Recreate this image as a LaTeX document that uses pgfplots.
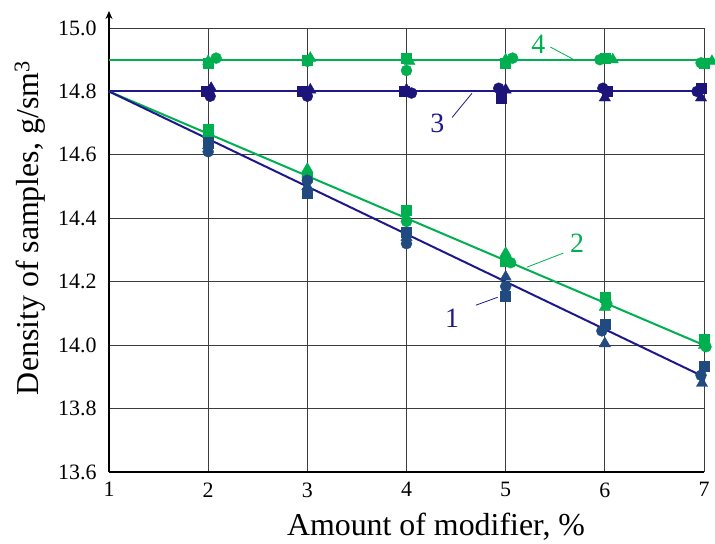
\documentclass[border=0pt]{standalone}
\usepackage{fontspec}
\setmainfont{Liberation Serif}
\usepackage{pgfplots}
\pgfplotsset{compat=1.18}
\usetikzlibrary{arrows.meta}

\definecolor{lgreen}{RGB}{0,176,80}
\definecolor{lnavy}{RGB}{30,24,140}
\definecolor{mindigo}{RGB}{28,20,120}
\definecolor{msteel}{RGB}{32,74,128}
\definecolor{gridc}{RGB}{60,60,60}

\pgfplotsset{
  sq/.style={only marks, mark=square*, mark size=5bp, mark options={solid}},
  ci/.style={only marks, mark=*, mark size=5.5bp, mark options={solid}},
  tr/.style={only marks, mark=triangle*, mark size=6.5bp, mark options={solid}},
}
\newcommand{\tl}[1]{\mbox{\rmfamily #1}}

\begin{document}
\begin{tikzpicture}
\begin{axis}[name=ax,
  scale only axis, width=595bp, height=444bp,
  xmin=1, xmax=7, ymin=13.6, ymax=15.0,
  xtick={1,2,3,4,5,6,7},
  xticklabels={\tl{1},\tl{2},\tl{3},\tl{4},\tl{5},\tl{6},\tl{7}},
  ytick={13.6,13.8,14.0,14.2,14.4,14.6,14.8,15.0},
  yticklabels={\tl{13.6},\tl{13.8},\tl{14.0},\tl{14.2},\tl{14.4},\tl{14.6},\tl{14.8},\tl{15.0}},
  axis x line*=bottom, axis y line*=left,
  axis line style={line width=1.6bp, black},
  grid=major, major grid style={gridc, line width=0.9bp},
  major tick length=0pt,
  tick label style={font=\rmfamily\fontsize{22}{24}\selectfont},
  y tick label style={xshift=-9bp},
  x tick label style={yshift=-7bp},
  xlabel={Amount of modifier, \%},
  ylabel={Density of samples, g/sm\textsuperscript{3}},
  label style={font=\fontsize{32}{35}\selectfont},
  xlabel style={at={(axis description cs:0.5496,-0.124)}, anchor=center},
  ylabel style={at={(axis description cs:-0.1328,0.5495)}, anchor=center},
  clip=false,
]
% fitted lines
\addplot[lgreen, line width=2bp] coordinates {(1,14.9) (7,14.9)};
\addplot[lnavy, line width=2bp] coordinates {(1,14.8) (7,14.8)};
\addplot[lgreen, line width=2bp] coordinates {(1,14.8) (7,14.0)};
\addplot[lnavy, line width=2bp] coordinates {(1,14.8) (7,13.9)};

% series 4
\addplot[sq, lgreen] coordinates {(2,14.89) (3,14.90) (4,14.905) (5,14.89) (6,14.905) (7,14.89)};
\addplot[ci, lgreen] coordinates {(2.08,14.905) (3,14.895) (4,14.866) (5.07,14.905) (5.95,14.90) (6.97,14.89)};
\addplot[tr, lgreen] coordinates {(2,14.895) (3.03,14.905) (4.03,14.895) (5,14.90) (6.08,14.90) (7.08,14.895)};

% series 3
\addplot[sq, mindigo] coordinates {(1.98,14.80) (2.95,14.80) (3.98,14.80) (4.95,14.78) (6.02,14.80) (6.97,14.81)};
\addplot[ci, mindigo] coordinates {(2.02,14.785) (3.0,14.785) (4.05,14.795) (4.93,14.81) (5.98,14.81) (6.93,14.80)};
\addplot[tr, mindigo] coordinates {(2.03,14.81) (3.03,14.805) (4.0,14.805) (5.0,14.805) (6.0,14.78) (6.97,14.78)};

% series 2
\addplot[sq, lgreen] coordinates {(2,14.68) (3,14.53) (4,14.425) (5,14.265) (6,14.15) (7,14.02)};
\addplot[ci, lgreen] coordinates {(2,14.66) (3,14.53) (4,14.39) (5.05,14.26) (6.02,14.13) (7.02,13.995)};
\addplot[tr, lgreen] coordinates {(2,14.665) (3,14.555) (4,14.40) (5,14.29) (6,14.12) (7,14.00)};

% series 1
\addplot[sq, msteel] coordinates {(2,14.64) (3,14.48) (4,14.355) (5,14.155) (6,14.065) (7,13.935)};
\addplot[ci, msteel] coordinates {(2,14.61) (3,14.52) (4,14.32) (5,14.185) (5.97,14.045) (6.97,13.905)};
\addplot[tr, msteel] coordinates {(2,14.63) (3,14.50) (4,14.34) (5,14.215) (6,14.005) (6.98,13.88)};

% curve numbers with leaders
\node[lgreen, font=\fontsize{28}{30}\selectfont] at (axis cs:5.33,14.95) {4};
\draw[lgreen, line width=0.8bp] (axis cs:5.45,14.94) -- (axis cs:5.69,14.90);
\node[lnavy, font=\fontsize{28}{30}\selectfont] at (axis cs:4.31,14.699) {3};
\draw[lnavy, line width=0.8bp] (axis cs:4.46,14.718) -- (axis cs:4.66,14.794);
\node[lgreen, font=\fontsize{28}{30}\selectfont] at (axis cs:5.72,14.32) {2};
\draw[lgreen, line width=0.8bp] (axis cs:5.58,14.29) -- (axis cs:5.215,14.246);
\node[lnavy, font=\fontsize{28}{30}\selectfont] at (axis cs:4.46,14.085) {1};
\draw[lnavy, line width=0.8bp] (axis cs:4.70,14.126) -- (axis cs:4.92,14.151);
\end{axis}
% arrow on the density axis
\draw[line width=1.6bp, -{Stealth[length=8bp,width=7bp]}] (ax.north west) -- ++(0,17bp);
\pgfresetboundingbox
\path (ax.south west) ++(-109bp,-72bp) rectangle ++(715bp,544bp);
\end{tikzpicture}
\end{document}
